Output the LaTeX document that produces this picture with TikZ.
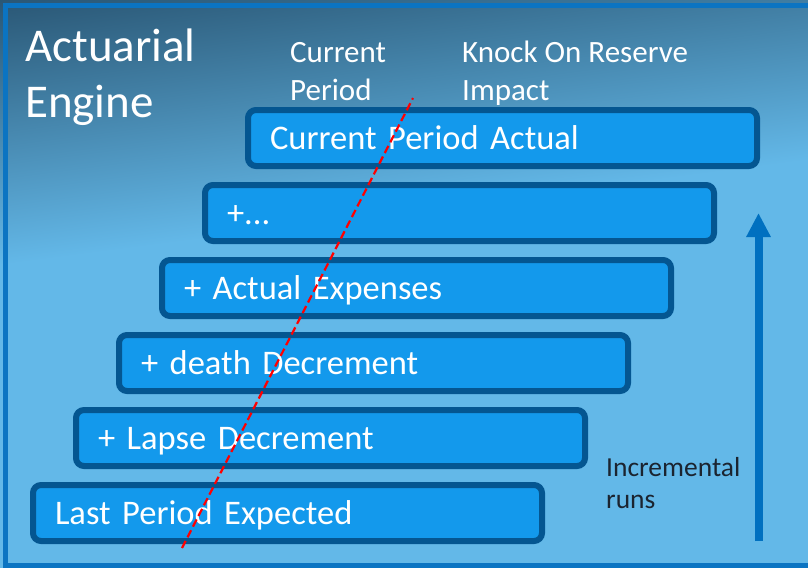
\documentclass[tikz,border=0pt]{standalone}
\usepackage{fontspec}
\setmainfont{Carlito}
\usetikzlibrary{arrows.meta}
\definecolor{bgdark}{HTML}{2A5775}
\definecolor{bglight}{HTML}{63B8E8}
\definecolor{framebl}{HTML}{0B74C2}
\definecolor{boxfill}{HTML}{1399EC}
\definecolor{boxline}{HTML}{045691}
\definecolor{arrowbl}{HTML}{0070C0}
\definecolor{notetext}{HTML}{1B2430}
\begin{document}
\begin{tikzpicture}[x=1pt,y=-1pt,
  stagebox/.style={draw=boxline, fill=boxfill, line width=6pt, rounded corners=8pt,
    minimum height=56pt, text width=465pt, inner xsep=22pt, inner ysep=0pt,
    align=left, text height=23pt, text depth=1pt, text=white,
    font=\fontsize{34.5}{41}\selectfont},
  heading/.style={anchor=base west, inner sep=0pt, align=left, text=white},
]
\useasboundingbox (0,0) rectangle (808,568);

% background: dark at the top left, fading to light blue
\begin{scope}
  \clip (0,0) rectangle (808,568);
  \fill[bglight] (0,0) rectangle (808,568);
  \begin{scope}[transform canvas={rotate=7.4}]
    \fill[bgdark] (-300,-400) rectangle (1200,0);
    \shade[top color=bgdark, bottom color=bglight] (-300,0) rectangle (1200,263);
  \end{scope}
  % slide frame
  \draw[framebl, line width=5pt] (830,5.5) -- (5.5,5.5) -- (5.5,565.5) -- (830,565.5);
\end{scope}

% staircase of runs
\node[stagebox] (lastexp) at (287.5,513) {Last Period Expected};
\node[stagebox] (lapse)   at (330.5,438) {+ Lapse Decrement};
\node[stagebox] (death)   at (373.5,363) {+ death Decrement};
\node[stagebox] (expens)  at (416.5,288) {+ Actual Expenses};
\node[stagebox] (more)    at (459.5,213) {+...};
\node[stagebox] (curact)  at (502.5,138) {Current Period Actual};

% split between current period and knock-on impact
\coordinate (cutlow)  at (182,548);
\coordinate (cuthigh) at (413,98);
\draw[red, line width=2.2pt, dash pattern=on 8pt off 4pt] (cutlow) -- (cuthigh);

% direction of the incremental runs
\coordinate (runsfoot) at (758.5,541);
\coordinate (runstip)  at (758.5,213);
\draw[arrowbl, line width=8pt, -{Triangle[width=23pt,length=24pt]}] (runsfoot) -- (runstip);

% headings (anchored on the baseline of their last line)
\node[heading, font=\fontsize{47}{56}\selectfont] (engine) at (25,117) {Actuarial\\Engine};
\node[heading, font=\fontsize{31}{38}\selectfont] (curper) at (290,100) {Current\\Period};
\node[heading, font=\fontsize{31}{38}\selectfont] (knock) at (462,100) {Knock On Reserve\\Impact};
\node[heading, text=notetext, font=\fontsize{27.5}{32}\selectfont] (incr) at (606,508) {Incremental\\runs};
\end{tikzpicture}
\end{document}
